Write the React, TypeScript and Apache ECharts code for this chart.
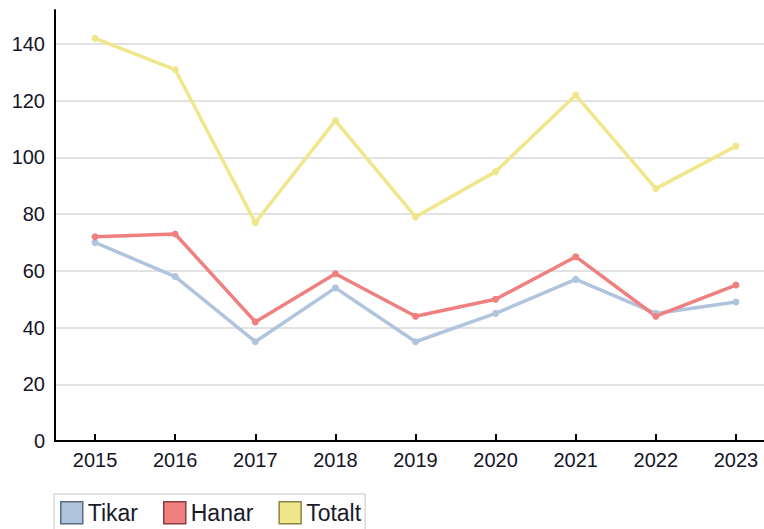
import { useEffect, useRef } from 'react';
import * as echarts from 'echarts';

const years = ['2015', '2016', '2017', '2018', '2019', '2020', '2021', '2022', '2023'];
const tikar = [70, 58, 35, 54, 35, 45, 57, 45, 49];
const hanar = [72, 73, 42, 59, 44, 50, 65, 44, 55];
const totalt = [142, 131, 77, 113, 79, 95, 122, 89, 104];

const seriesNames = ['Tikar', 'Hanar', 'Totalt'];
const seriesColors = ['#b0c4de', '#f08080', '#f0e68c'];
const swatchBorders = ['#5c6b80', '#8a3d3d', '#8c8442'];

const FONT = '"Liberation Sans", Arial, sans-serif';

const App = () => {
    const chartRef = useRef<HTMLDivElement>(null);

    useEffect(() => {
        if (!chartRef.current) return;
        const myChart = echarts.init(chartRef.current, undefined, { renderer: 'svg' });

        const lineSeries = [tikar, hanar, totalt].map((values, i) => ({
            name: seriesNames[i],
            type: 'line',
            data: values,
            symbol: 'circle',
            symbolSize: 7,
            itemStyle: { color: seriesColors[i] },
            lineStyle: { color: seriesColors[i], width: 3.5 },
        }));

        const option = {
            animation: false,
            backgroundColor: '#ffffff',
            textStyle: { fontFamily: FONT },
            // the plot runs past the right edge of the window, as in the source image
            grid: {
                left: 55,
                top: 10,
                right: 0,
                bottom: 88,
                containLabel: false,
            },
            legend: {
                left: 54,
                top: 494,
                orient: 'horizontal',
                icon: 'rect',
                itemWidth: 22,
                itemHeight: 22,
                itemGap: 25,
                padding: [7, 4, 10, 6],
                borderColor: '#c4c4c4',
                borderWidth: 1,
                backgroundColor: '#ffffff',
                textStyle: { fontSize: 23, color: '#1a1a2a', fontFamily: FONT },
                data: seriesNames.map((name, i) => ({
                    name,
                    itemStyle: { color: seriesColors[i], borderColor: swatchBorders[i], borderWidth: 1.5 },
                })),
            },
            xAxis: {
                type: 'category',
                data: years,
                boundaryGap: true,
                axisLine: { show: true, lineStyle: { color: '#000', width: 2 } },
                axisTick: { show: true, inside: true, alignWithLabel: true, length: 7, lineStyle: { color: '#000', width: 2 } },
                axisLabel: { fontSize: 20, color: '#141428', margin: 9, fontFamily: FONT },
                splitLine: { show: false },
            },
            yAxis: {
                type: 'value',
                min: 0,
                max: 152,
                interval: 20,
                axisLine: { show: true, lineStyle: { color: '#000', width: 2 } },
                axisTick: { show: false },
                axisLabel: { fontSize: 20, color: '#141428', margin: 10, showMaxLabel: false, fontFamily: FONT },
                splitLine: {
                    show: true,
                    lineStyle: {
                        width: 2,
                        color: ['#e2e2e2', '#e2e2e2', '#e2e2e2', '#e2e2e2', '#e2e2e2', '#e2e2e2', '#e2e2e2', '#e2e2e2', 'rgba(0,0,0,0)'],
                    },
                },
            },
            series: lineSeries,
        };

        myChart.setOption(option);

        return () => {
            myChart.dispose();
        };
    }, []);

    return (
        <div
            ref={chartRef}
            style={{ position: 'fixed', left: 0, top: 0, width: '776px', height: '529px' }}
        />
    );
};

export default App;
